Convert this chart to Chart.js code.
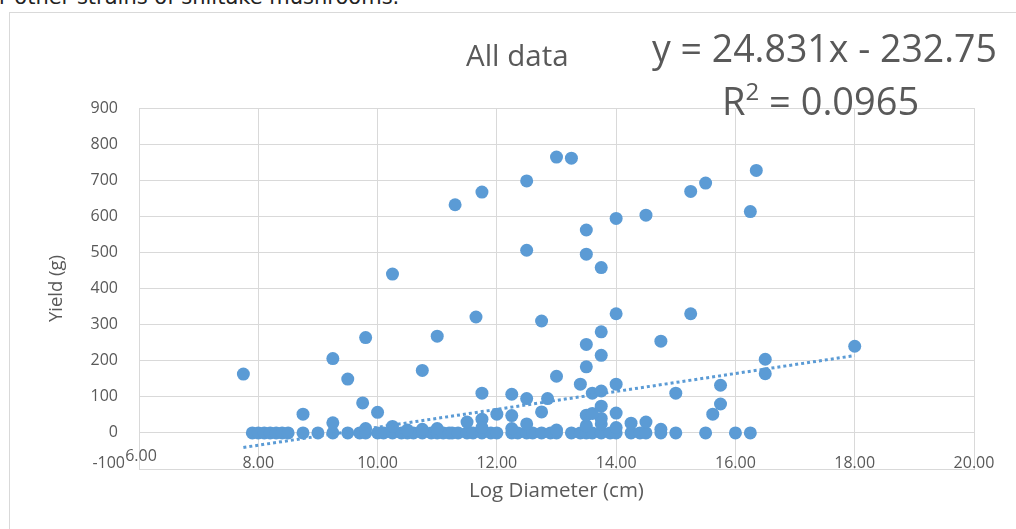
<!DOCTYPE html>
<html>
<head>
<meta charset="utf-8">
<script src="https://cdn.jsdelivr.net/npm/chart.js@4"></script>
<style>
  body { margin: 0; background: #fff; overflow: hidden; }
  #wrap { position: relative; width: 1016px; height: 529px; }
  #frame { position: absolute; left: 9px; top: 12px; width: 1020px; height: 540px; border: 1px solid #d9d9d9; box-sizing: border-box; }
  #myChart { position: absolute; left: 0; top: 0; }
  .txt { position: absolute; font-family: "Open Sans", sans-serif; color: #595959; white-space: nowrap; line-height: 1; }
  #cut { position: absolute; left: -1px; top: -15px; font-family: "DejaVu Sans", sans-serif; font-size: 21px; color: #222; white-space: nowrap; }
</style>
</head>
<body>
<div id="wrap">
  <div id="cut">r other strains of shiitake mushrooms.</div>
  <div id="frame"></div>
  <canvas id="myChart" width="1016" height="529"></canvas>
  <div class="txt" id="title" style="left:466px; top:40px; font-size:29.5px;">All data</div>
  <div class="txt" id="eq" style="left:652px; top:29px; font-size:37.5px;">y = 24.831x - 232.75</div>
  <div class="txt" id="r2" style="left:722px; top:79px; font-size:38px;">R<sup style="font-size:24px; vertical-align:15px;">2</sup> = 0.0965</div>
</div>
<script>
// log diameter (cm) and yield (g)
let logDiameter = [
  7.9, 8.0, 8.1, 8.2, 8.3, 8.4, 8.5, 8.75, 9.0, 9.25, 9.5, 9.7, 9.8, 10.0, 10.1, 10.25, 10.4, 10.5, 10.6, 10.75,
  10.9, 11.0, 11.1, 11.2, 11.25, 11.35, 11.5, 11.6, 11.75, 11.9, 12.0, 12.25, 12.35, 12.5, 12.6, 12.75, 12.9, 13.0, 13.25, 13.4, 13.5, 13.6,
  13.75, 13.9, 14.0, 14.25, 14.4, 14.5, 14.75, 15.0, 15.5, 16.0, 16.25,
  9.25, 9.8, 10.25, 10.5, 10.75, 11.0, 11.5, 11.75, 11.75, 12.0, 12.25, 12.5, 12.25, 13.5, 13.75, 13.75, 14.0, 14.25, 14.5, 14.75, 13.0,
  7.75, 8.75, 9.25, 9.5, 9.75, 9.8, 10.0, 10.25, 10.75, 11.0, 11.3, 11.65, 11.75, 11.75, 12.25, 12.5, 12.5, 12.5, 12.75, 12.75,
  12.85, 13.0, 13.0, 13.25, 13.4, 13.5, 13.5, 13.5, 13.5, 13.5, 13.6, 13.75, 13.75, 13.75, 13.75, 13.75, 13.6, 14.0, 14.0, 14.0,
  14.0, 14.5, 14.75, 15.0, 15.25, 15.25, 15.5, 15.62, 15.75, 15.75, 16.25, 16.35, 16.5, 16.5, 18.0
]
let yieldG = [
  0, 0, 0, 0, 0, 0, 0, 0, 0, 0, 0, 0, 0, 0, 0, 0, 0, 0, 0, 0,
  0, 0, 0, 0, 0, 0, 0, 0, 0, 0, 0, 0, 0, 0, 0, 0, 0, 0, 0, 0, 0, 0,
  0, 0, 0, 0, 0, 0, 0, 0, 0, 0, 0,
  28, 12, 18, 8, 10, 12, 30, 38, 15, 52, 48, 25, 12, 20, 25, 40, 15, 27, 30, 10, 8,
  163, 52, 206, 149, 83, 264, 57, 440, 173, 268, 632, 321, 667, 110, 107, 698, 506, 95, 310, 58,
  95, 764, 157, 761, 135, 562, 495, 245, 183, 49, 110, 458, 280, 215, 116, 74, 54, 594, 330, 135,
  55, 603, 254, 110, 669, 330, 692, 52, 132, 80, 613, 727, 204, 164, 240
]
// linear trendline end points (y = 24.831x - 232.75)
let trendX = [7.75, 18.0]
let trendY = [-40.3, 214.2]

let xTicks = [6, 8, 10, 12, 14, 16, 18, 20]
let yTicks = [-100, 0, 100, 200, 300, 400, 500, 600, 700, 800, 900]

let blue = '#5b9bd5'
let gray = '#595959'
let gridColor = '#d9d9d9'
let tickFont = '16px "Open Sans"'

let points = logDiameter.map((x, i) => ({ x: x, y: yieldG[i] }))
let trend = trendX.map((x, i) => ({ x: x, y: trendY[i] }))

// x tick labels sit just above the bottom edge, like the excel chart
let lowLabels = {
  id: 'lowLabels',
  beforeDatasetsDraw(chart) {
    let ctx = chart.ctx, xs = chart.scales.x, area = chart.chartArea
    ctx.save()
    ctx.font = tickFont
    ctx.fillStyle = gray
    ctx.textBaseline = 'middle'
    ctx.textAlign = 'center'
    xTicks.forEach((v, i) => {
      let px = xs.getPixelForValue(v)
      ctx.fillText(v.toFixed(2), i == 0 ? px + 2 : px, area.bottom - (i == 0 ? 13 : 6))
    })
    ctx.textAlign = 'right'
    ctx.fillText(String(yTicks[0]), 125, area.bottom - 6)
    ctx.restore()
  }
}

let graphObject = new Chart(document.querySelector('#myChart'), {
  type: 'scatter',
  data: {
    datasets: [{
      type: 'line',
      label: 'Linear (All data)',
      data: trend,
      borderColor: blue,
      borderWidth: 3,
      borderDash: [3, 3],
      pointRadius: 0,
      fill: false
    }, {
      label: 'All data',
      data: points,
      pointRadius: 6.5,
      pointBackgroundColor: blue,
      pointBorderColor: blue,
      pointBorderWidth: 0
    }]
  },
  plugins: [lowLabels],
  options: {
    responsive: false,
    animation: false,
    layout: { padding: { top: 108, right: 42, left: 0, bottom: 0 } },
    plugins: { legend: { display: false }, tooltip: { enabled: false } },
    scales: {
      x: {
        type: 'linear',
        min: xTicks[0],
        max: xTicks[xTicks.length - 1],
        afterBuildTicks: scale => { scale.ticks = xTicks.map(v => ({ value: v })) },
        afterFit: scale => { scale.height = 60 },
        grid: { color: gridColor, drawTicks: false },
        border: { color: gridColor },
        ticks: { display: false },
        title: {
          display: true,
          text: 'Log Diameter (cm)',
          color: gray,
          font: { family: 'Open Sans', size: 20.5 },
          padding: { bottom: 26 }
        }
      },
      y: {
        type: 'linear',
        min: yTicks[0],
        max: yTicks[yTicks.length - 1],
        afterBuildTicks: scale => { scale.ticks = yTicks.map(v => ({ value: v })) },
        afterFit: scale => { scale.width = 139 },
        grid: { color: gridColor, drawTicks: false },
        border: { color: gridColor },
        ticks: {
          color: gray,
          font: { family: 'Open Sans', size: 16 },
          padding: 21,
          callback: v => (v == yTicks[0] ? '' : v)
        },
        title: {
          display: true,
          text: 'Yield (g)',
          color: gray,
          font: { family: 'Open Sans', size: 18.5 },
          padding: { top: 46 }
        }
      }
    }
  }
})
</script>
</body>
</html>
